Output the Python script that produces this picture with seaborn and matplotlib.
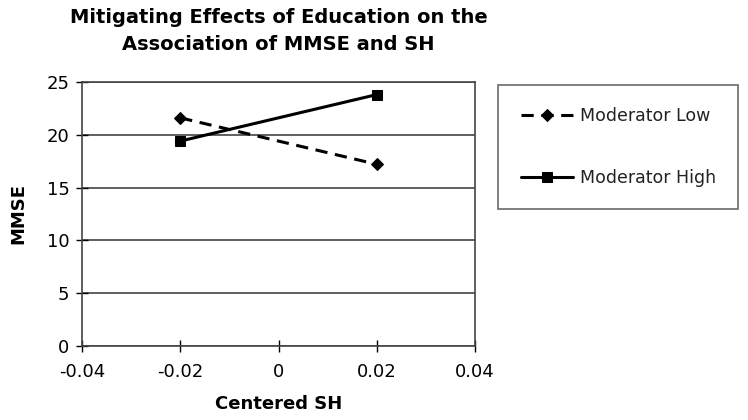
import pandas as pd
import seaborn as sns
import matplotlib.pyplot as plt

sh_values = [-0.02, 0.02]
low_mmse = [21.6, 17.2]
high_mmse = [19.4, 23.8]
groups = ['Moderator Low', 'Moderator High']

df = pd.DataFrame({
    'Centered SH': sh_values * 2,
    'MMSE': low_mmse + high_mmse,
    'group': [groups[0]] * 2 + [groups[1]] * 2,
})

sns.set_style("white")
plt.rcParams['font.family'] = ['DejaVu Sans']
plt.rcParams['text.color'] = 'black'
plt.rcParams['axes.labelcolor'] = 'black'

fig = plt.figure(figsize=(7.48, 4.2), dpi=100)
ax = fig.add_axes([0.1096, 0.176, 0.5255, 0.629])

sns.lineplot(data=df, x='Centered SH', y='MMSE', hue='group', style='group',
             palette=['black', 'black'], dashes={groups[0]: (4, 2.5), groups[1]: ''},
             markers={groups[0]: 'D', groups[1]: 's'}, markersize=6.5, linewidth=2.2,
             markeredgecolor='black', ax=ax)

ax.set_xlim(-0.04, 0.04)
ax.set_ylim(0, 25)
ax.set_xticks([-0.04, -0.02, 0, 0.02, 0.04])
ax.set_xticklabels(['-0.04', '-0.02', '0', '0.02', '0.04'])
ax.set_yticks([0, 5, 10, 15, 20, 25])
ax.yaxis.grid(True, color='#444444', linewidth=1.2)
ax.tick_params(axis='both', direction='inout', length=8, width=1, labelsize=13,
               colors='black', bottom=True, left=True)
ax.tick_params(axis='x', pad=8)
ax.tick_params(axis='y', pad=5)
for s in ax.spines.values():
    s.set_color('#444444')
    s.set_linewidth(1.2)

ax.set_xlabel('Centered SH', fontsize=13, fontweight='bold', labelpad=10)
ax.set_ylabel('MMSE', fontsize=13, fontweight='bold', labelpad=14)
ax.set_title('Mitigating Effects of Education on the\nAssociation of MMSE and SH',
             fontsize=14, fontweight='bold', pad=23, linespacing=1.5, color='black')

leg = ax.legend(loc='upper left', bbox_to_anchor=(1.0585, 0.989), borderaxespad=0,
                fontsize=12.5, frameon=True, fancybox=False, edgecolor='#444444',
                handlelength=3.0, borderpad=1.3, labelspacing=2.5, handletextpad=0.4)
leg.get_frame().set_linewidth(1.2)
for t in leg.get_texts():
    t.set_color('#222222')

plt.savefig('out.png', dpi=100)
